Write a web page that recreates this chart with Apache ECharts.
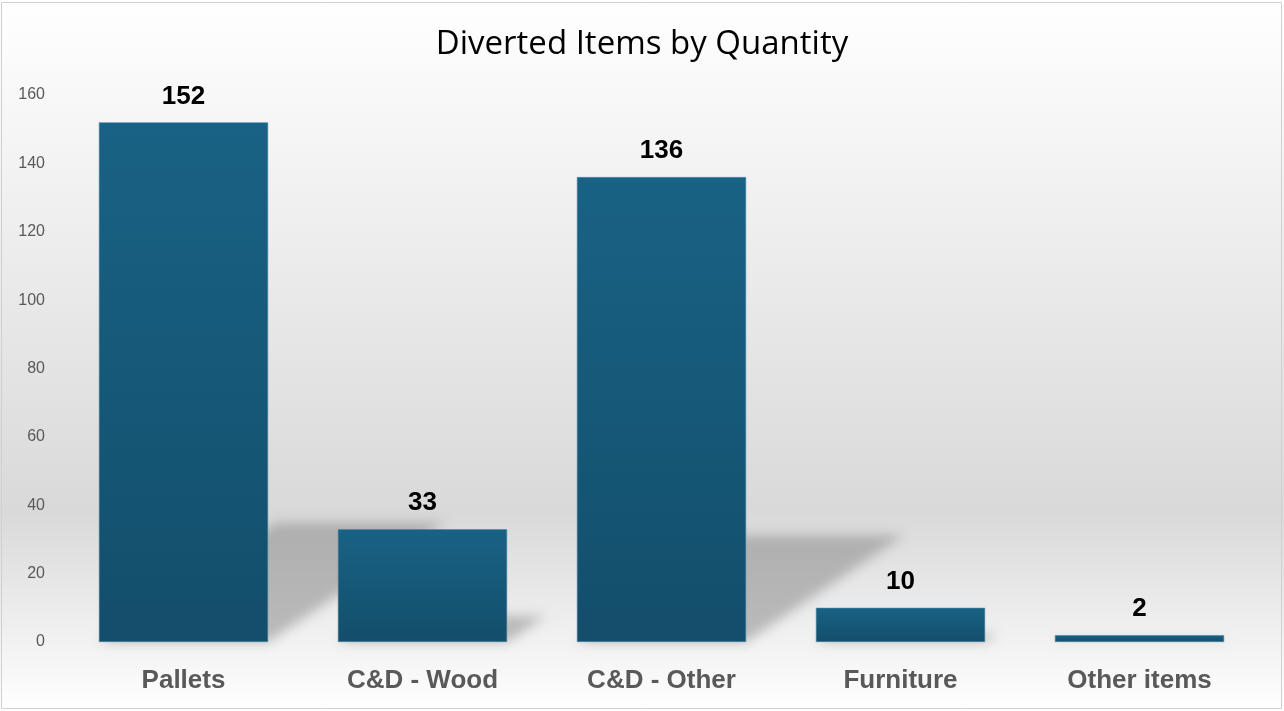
<!DOCTYPE html>
<html>
<head>
<meta charset="utf-8">
<script src="https://cdn.jsdelivr.net/npm/echarts@6/dist/echarts.min.js"></script>
<style>
html,body{margin:0;padding:0;background:#fff;}
#c{width:1284px;height:711px;}
</style>
</head>
<body>
<div id="c"></div>
<script>
const categories = ["Pallets", "C&D - Wood", "C&D - Other", "Furniture", "Other items"];
const quantities = [152, 33, 136, 10, 2];
const yTicks = [0, 20, 40, 60, 80, 100, 120, 140, 160];
const chartTitle = "Diverted Items by Quantity";

const chart = echarts.init(document.getElementById('c'));

function shadowItem(params, api) {
  const i = api.value(0);
  const v = api.value(1);
  const base = api.coord([i, 0]);
  const top = api.coord([i, v]);
  const bandW = api.size([1, 0])[0];
  const w = bandW * 0.708;
  const h = base[1] - top[1];
  const x0 = base[0] - w / 2, x1 = base[0] + w / 2;
  const sh = h * 0.23, sx = h * 0.34;
  const off = 3000;
  return {
    type: 'polygon',
    shape: { points: [
      [x0 - off, base[1]], [x1 - off, base[1]],
      [x1 + sx - off, base[1] - sh], [x0 + sx - off, base[1] - sh]
    ]},
    style: {
      fill: '#000',
      shadowColor: 'rgba(120,120,120,0.45)',
      shadowBlur: 12,
      shadowOffsetX: off,
      shadowOffsetY: 0
    },
    silent: true
  };
}

chart.setOption({
  animation: false,
  backgroundColor: {
    type: 'linear', x: 0, y: 0, x2: 0, y2: 1,
    colorStops: [
      { offset: 0, color: '#ffffff' },
      { offset: 0.72, color: '#d9d9d9' },
      { offset: 1, color: '#ffffff' }
    ]
  },
  title: {
    text: chartTitle,
    left: 'center',
    top: 23,
    textStyle: { fontFamily: 'Open Sans', fontWeight: 'normal', fontSize: 33, color: '#000' }
  },
  graphic: [{
    type: 'rect', shape: { x: 1.5, y: 2.5, width: 1280, height: 706 },
    style: { fill: 'none', stroke: '#d0d0d0', lineWidth: 1 }, silent: true
  }],
  grid: { left: 64, right: 25, top: 95, bottom: 69, containLabel: false },
  xAxis: {
    type: 'category',
    data: categories,
    axisLine: { show: false },
    axisTick: { show: false },
    axisLabel: {
      margin: 26, fontFamily: 'Liberation Sans', fontWeight: 'bold', fontSize: 26, color: '#595959'
    }
  },
  yAxis: {
    type: 'value',
    min: yTicks[0], max: yTicks[yTicks.length - 1], interval: 20,
    splitLine: { show: false },
    axisLine: { show: false },
    axisTick: { show: false },
    axisLabel: { margin: 19, fontFamily: 'Liberation Sans', fontSize: 16, color: '#595959' }
  },
  series: [
    {
      type: 'custom',
      z: 1,
      renderItem: shadowItem,
      data: quantities.map((q, i) => [i, q]),
      encode: { x: 0, y: 1 },
      silent: true
    },
    {
      type: 'bar',
      z: 5,
      data: quantities,
      barWidth: '70.8%',
      itemStyle: {
        color: {
          type: 'linear', x: 0, y: 0, x2: 0, y2: 1,
          colorStops: [
            { offset: 0, color: '#196285' },
            { offset: 1, color: '#134e6b' }
          ]
        },
        borderColor: '#4f87a5',
        borderWidth: 0.6
      },
      label: {
        show: true,
        position: 'top',
        distance: 13,
        fontFamily: 'Liberation Sans',
        fontWeight: 'bold',
        fontSize: 26,
        color: '#000'
      }
    }
  ]
});
</script>
</body>
</html>
